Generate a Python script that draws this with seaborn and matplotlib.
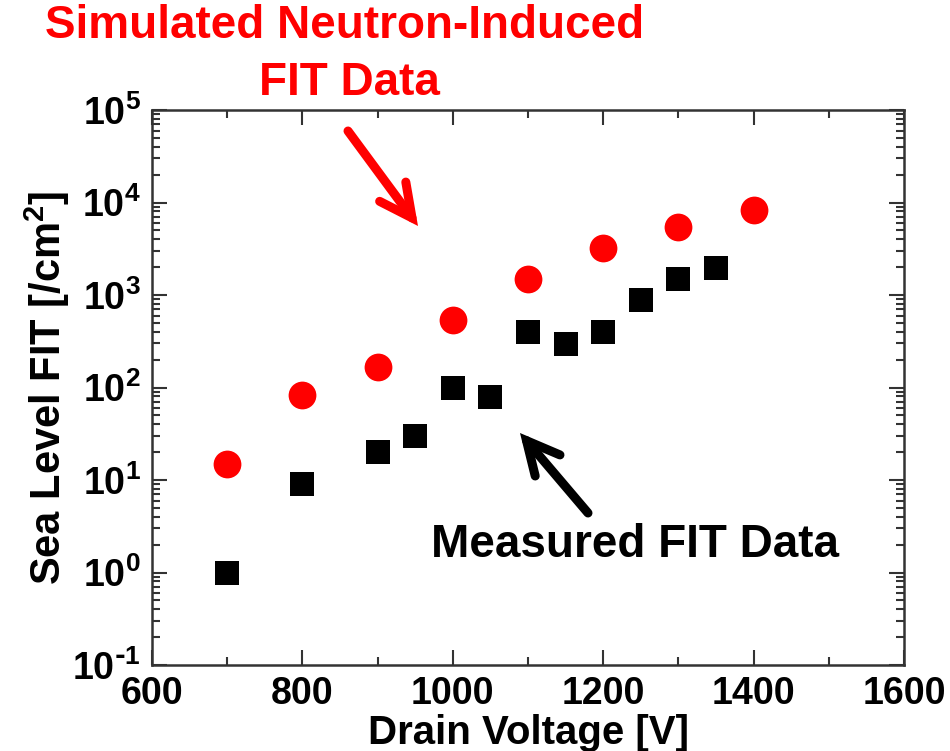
import numpy as np
import pandas as pd
import seaborn as sns
import matplotlib.pyplot as plt
from matplotlib.patches import FancyArrowPatch
from matplotlib.ticker import LogLocator, FixedLocator

sns.set_style("ticks")
plt.rcParams['font.family'] = ['Liberation Sans Narrow', 'Liberation Sans', 'DejaVu Sans']
plt.rcParams['font.weight'] = 'bold'
plt.rcParams['mathtext.default'] = 'regular'
plt.rcParams['text.color'] = 'black'
plt.rcParams['axes.labelcolor'] = 'black'
plt.rcParams['xtick.labelcolor'] = 'black'
plt.rcParams['ytick.labelcolor'] = 'black'

# simulated neutron-induced FIT (red circles)
sim_voltage = [700, 800, 900, 1000, 1100, 1200, 1300, 1400]
sim_fit = [15, 84, 168, 540, 1490, 3200, 5400, 8300]

# measured FIT (black squares)
meas_voltage = [700, 800, 900, 950, 1000, 1050, 1100, 1150, 1200, 1250, 1300, 1350]
meas_fit = [1.0, 9, 20, 30, 100, 78, 400, 297, 400, 885, 1500, 1970]

ytick_vals = [1e-1, 1e0, 1e1, 1e2, 1e3, 1e4, 1e5]
ytick_labels = [r"10$^{\text{-}1}$", "10$^{0}$", "10$^{1}$", "10$^{2}$",
                "10$^{3}$", "10$^{4}$", "10$^{5}$"]

df_sim = pd.DataFrame({"Drain Voltage": sim_voltage, "FIT": sim_fit})
df_meas = pd.DataFrame({"Drain Voltage": meas_voltage, "FIT": meas_fit})

fig = plt.figure(figsize=(9.5, 7.51), dpi=100)
ax = fig.add_axes([0.16, 0.1145, 0.7916, 0.739])

sns.scatterplot(data=df_sim, x="Drain Voltage", y="FIT", marker="o", s=400,
                color="#ff0000", linewidth=0, ax=ax, zorder=3)
sns.scatterplot(data=df_meas, x="Drain Voltage", y="FIT", marker="s", s=275,
                color="black", linewidth=0, ax=ax, zorder=3)

ax.set_yscale("log")
ax.set_xlim(600, 1600)
ax.set_ylim(1e-1, 1e5)
ax.set_xticks([600, 800, 1000, 1200, 1400, 1600])
ax.xaxis.set_minor_locator(FixedLocator([700, 900, 1100, 1300, 1500]))
ax.set_yticks(ytick_vals)
ax.set_yticklabels(ytick_labels)
ax.yaxis.set_minor_locator(LogLocator(base=10, subs=np.arange(2, 10), numticks=20))

ax.tick_params(which="both", direction="in", top=True, right=True,
               width=1.5, color="#333333", labelsize=27)
ax.tick_params(which="major", length=11, pad=8)
ax.tick_params(which="minor", length=5.5)
for sp in ax.spines.values():
    sp.set_linewidth(1.8)
    sp.set_color("#333333")

ax.set_xlabel("Drain Voltage [V]", fontsize=29, fontweight="bold", labelpad=1)
ax.set_ylabel("Sea Level FIT [/cm$^{2}$]", fontsize=30, fontweight="bold", labelpad=0)

# annotations
fig.text(0.363, 0.965, "Simulated Neutron-Induced", color="#ff0000", fontsize=33,
         fontweight="bold", ha="center", va="center")
fig.text(0.368, 0.89, "FIT Data", color="#ff0000", fontsize=33,
         fontweight="bold", ha="center", va="center")
fig.text(0.668, 0.274, "Measured FIT Data", color="black", fontsize=33,
         fontweight="bold", ha="center", va="center")

for (x0, y0), (x1, y1), col in [((348, 131), (418, 226), "#ff0000"),
                                ((588, 513), (520, 433), "black")]:
    fig.patches.append(FancyArrowPatch(
        (x0 / 950, 1 - y0 / 751), (x1 / 950, 1 - y1 / 751), transform=fig.transFigure,
        arrowstyle="->,head_length=0.9,head_width=0.45", mutation_scale=26,
        shrinkA=0, shrinkB=0, color=col, linewidth=6.5,
        capstyle="round", joinstyle="miter"))

fig.savefig("out.png", dpi=100)
